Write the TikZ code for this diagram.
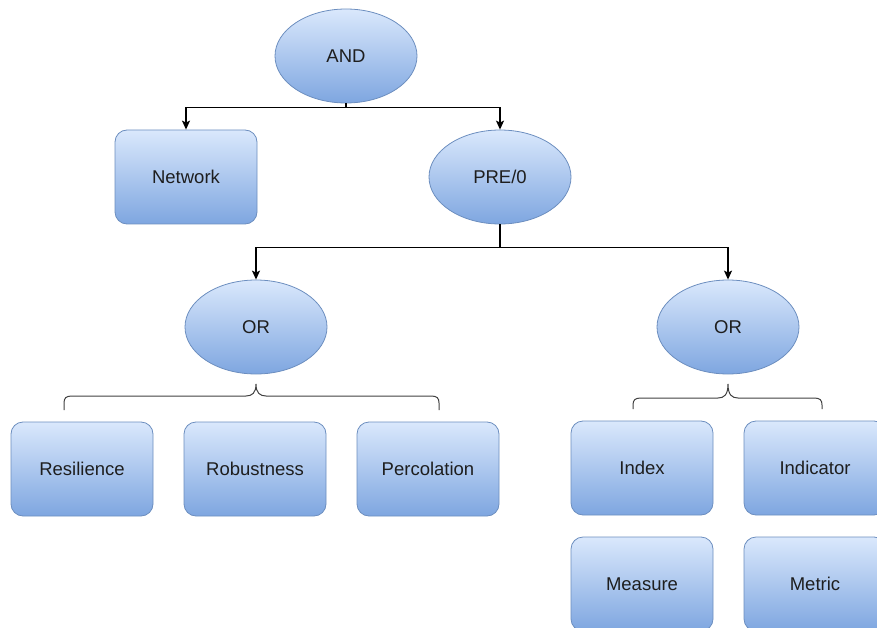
\documentclass[tikz,border=0pt]{standalone}
\usepackage{fontspec}
\setmainfont{Liberation Sans}
\usepackage{tikz}
\usetikzlibrary{arrows.meta,shapes.geometric}
\definecolor{niceblueL}{RGB}{218, 232, 252}
\definecolor{niceblueH}{RGB}{126, 166, 224}
\definecolor{niceblueD}{RGB}{108, 142, 191}
\definecolor{dgray}{RGB}{30, 30, 30}

\begin{document}
\begin{tikzpicture}[x = 1pt, y = -1pt,
	box/.style = {rectangle, rounded corners = 12pt, draw = niceblueD, line width = 0.8pt,
		top color = niceblueL, bottom color = niceblueH, minimum width = 142pt,
		minimum height = 94pt, inner sep = 0pt, text = dgray,
		font = \fontsize{18.5}{22}\selectfont},
	oval/.style = {box, ellipse, rounded corners = 0pt},
	arrow/.style = {line width = 1.3pt, -{Stealth[length = 9pt, width = 8pt, inset = 2pt]}},
	brace/.style = {line width = 1pt, draw = dgray!85}]
			\useasboundingbox (0,0) rectangle (877,628);
			\clip (0,0) rectangle (877,628);
			\node (and) at (346,56) [oval] {AND};
			\node (net) at (186,177) [box] {Network};
			\node (pre) at (500,177) [oval] {PRE/0};
			\node (orl) at (256,327) [oval] {OR};
			\node (orr) at (728,327) [oval] {OR};
			\node (res) at (82,469) [box] {Resilience};
			\node (rob) at (255,469) [box] {Robustness};
			\node (per) at (428,469) [box] {Percolation};
			\node (idx) at (642,468) [box] {Index};
			\node (ind) at (815,468) [box] {Indicator};
			\node (mea) at (642,584) [box] {Measure};
			\node (met) at (815,584) [box] {Metric};
			\draw[arrow] (and.south) -- ++(0,4) -| (net.north);
			\draw[arrow] (and.south) -- ++(0,4) -| (pre.north);
			\draw[arrow] (pre.south) -- ++(0,23) -| (orl.north);
			\draw[arrow] (pre.south) -- ++(0,23) -| (orr.north);
			\draw[brace] (64,410) -- (64,403) .. controls (64,398) and (66,396) .. (72,396) -- (246,396)
				.. controls (252,396) and (256,393) .. (256,384)
				.. controls (256,393) and (260,396) .. (266,396) -- (431,396)
				.. controls (437,396) and (439,398) .. (439,403) -- (439,410);
			\draw[brace] (633,409) -- (633,405) .. controls (633,400) and (635,398) .. (641,398) -- (718,398)
				.. controls (724,398) and (728,395) .. (728,384)
				.. controls (728,395) and (732,398) .. (738,398) -- (814,398)
				.. controls (820,398) and (822,400) .. (822,405) -- (822,409);
			\end{tikzpicture}
\end{document}
